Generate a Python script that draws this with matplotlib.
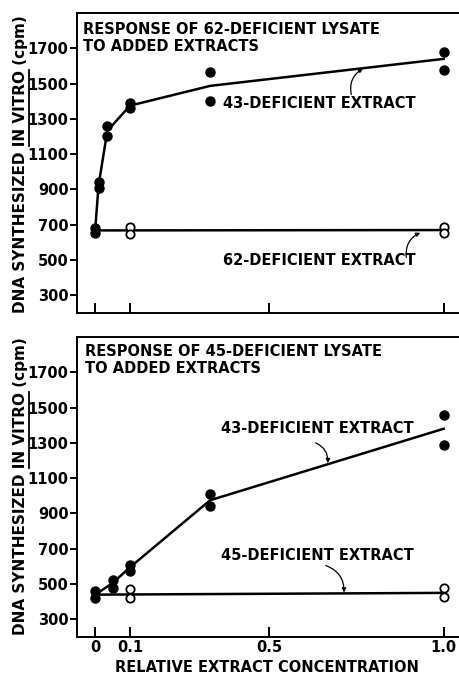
import matplotlib
matplotlib.use('Agg')
import matplotlib.pyplot as plt
from matplotlib.lines import Line2D

# ---------------- data ----------------
# top panel: 62-deficient lysate
top_conc_43 = [0, 0, 0.01, 0.01, 0.035, 0.035, 0.1, 0.1, 0.33, 0.33, 1.0, 1.0]
top_dna_43 = [680, 655, 945, 910, 1260, 1205, 1390, 1360, 1565, 1400, 1680, 1575]
top_line43_x = [0, 0.01, 0.035, 0.1, 0.33, 1.0]
top_line43_y = [668, 925, 1232, 1375, 1487, 1640]
top_conc_62 = [0.1, 0.1, 1.0, 1.0]
top_dna_62 = [688, 650, 688, 652]
top_line62_x = [0, 1.0]
top_line62_y = [668, 670]

# bottom panel: 45-deficient lysate
bot_conc_43 = [0, 0, 0.05, 0.05, 0.1, 0.1, 0.33, 0.33, 1.0, 1.0]
bot_dna_43 = [460, 420, 525, 480, 610, 575, 1010, 940, 1460, 1290]
bot_line43_x = [0, 0.05, 0.1, 0.33, 1.0]
bot_line43_y = [440, 505, 595, 975, 1380]
bot_conc_45 = [0.1, 0.1, 1.0, 1.0]
bot_dna_45 = [470, 420, 475, 424]
bot_line45_x = [0, 1.0]
bot_line45_y = [440, 450]

y_ticks = [300, 500, 700, 900, 1100, 1300, 1500, 1700]
x_ticks = [0, 0.1, 0.5, 1.0]
x_tick_labels = ['0', '0.1', '0.5', '1.0']

FONT = 'DejaVu Sans'
FS = 10.5
W = 'bold'
plt.rcParams['font.family'] = [FONT]

fig = plt.figure(figsize=(4.6, 6.75), dpi=100)
ax1 = fig.add_axes([77 / 460, 1 - 313 / 675, 383 / 460, 300 / 675])
ax2 = fig.add_axes([77 / 460, 1 - 637 / 675, 383 / 460, 300 / 675])


def style(ax, show_xlabels):
    ax.set_xlim(-0.052, 1.047)
    ax.set_ylim(200, 1900)
    ax.set_yticks(y_ticks)
    ax.set_yticklabels([str(v) for v in y_ticks], fontsize=FS, fontweight=W)
    ax.set_xticks(x_ticks)
    if show_xlabels:
        ax.set_xticklabels(x_tick_labels, fontsize=FS, fontweight=W)
    else:
        ax.set_xticklabels([])
    ax.tick_params(axis='y', direction='out', length=5, width=1.4, pad=1)
    ax.tick_params(axis='x', direction='in', length=7, width=1.4, pad=2)
    for s in ax.spines.values():
        s.set_linewidth(1.4)


def draw(ax, lx1, ly1, cx1, cy1, lx2, ly2, cx2, cy2):
    ax.plot(lx1, ly1, color='black', lw=1.8, zorder=2)
    ax.plot(lx2, ly2, color='black', lw=1.8, zorder=2)
    ax.plot(cx1, cy1, 'o', color='black', ms=6.5, zorder=3, clip_on=False)
    ax.plot(cx2, cy2, 'o', mfc='white', mec='black', mew=1.3, ms=6, zorder=3,
            clip_on=False)


style(ax1, False)
style(ax2, True)
draw(ax1, top_line43_x, top_line43_y, top_conc_43, top_dna_43,
     top_line62_x, top_line62_y, top_conc_62, top_dna_62)
draw(ax2, bot_line43_x, bot_line43_y, bot_conc_43, bot_dna_43,
     bot_line45_x, bot_line45_y, bot_conc_45, bot_dna_45)

tk = dict(fontsize=FS, fontweight=W, color='black')
# titles
ax1.text(-0.035, 1849, 'RESPONSE OF 62-DEFICIENT LYSATE\nTO ADDED EXTRACTS',
         ha='left', va='top', linespacing=1.2, **tk)
ax2.text(-0.030, 1862, 'RESPONSE OF 45-DEFICIENT LYSATE\nTO ADDED EXTRACTS',
         ha='left', va='top', linespacing=1.2, **tk)
# curve labels
ax1.text(0.366, 1385, '43-DEFICIENT EXTRACT', ha='left', va='center', **tk)
ax1.text(0.366, 500, '62-DEFICIENT EXTRACT', ha='left', va='center', **tk)
ax2.text(0.36, 1380, '43-DEFICIENT EXTRACT', ha='left', va='center', **tk)
ax2.text(0.36, 662, '45-DEFICIENT EXTRACT', ha='left', va='center', **tk)

ap = dict(arrowstyle='-|>', connectionstyle='arc3,rad=-0.35', lw=0.9,
          color='black', mutation_scale=6, shrinkA=0, shrinkB=0)
ax1.annotate('', xy=(0.769, 1585), xytext=(0.735, 1438), arrowprops=ap)
ax1.annotate('', xy=(0.933, 655), xytext=(0.893, 515), arrowprops=ap)
ax2.annotate('', xy=(0.667, 1185), xytext=(0.633, 1300), arrowprops=ap)
ax2.annotate('', xy=(0.714, 452), xytext=(0.662, 605), arrowprops=ap)

# x label
fig.text(267 / 460, 1 - 668 / 675, 'RELATIVE EXTRACT CONCENTRATION',
         ha='center', va='center', **tk)

# y labels with underlined "IN VITRO"
label = 'DNA SYNTHESIZED IN VITRO (cpm)'
upto = 'DNA SYNTHESIZED IN VITRO'
part = 'IN VITRO'
yk = dict(fontsize=11, fontweight=W, color='black')
fig.canvas.draw()
r = fig.canvas.get_renderer()


def width_px(s):
    t = fig.text(0, 0, s, **yk)
    w = t.get_window_extent(renderer=r).width
    t.remove()
    return w


w_all = width_px(label)
w_upto = width_px(upto)
w_part = width_px(part)
for cy in (164, 486):
    xc = 21
    fig.text(xc / 460, 1 - cy / 675, label, rotation=90, ha='center',
             va='center', **yk)
    start = (675 - cy) - w_all / 2  # bottom end of text in px from bottom
    y0 = start + (w_upto - w_part)
    y1 = start + w_upto
    xu = xc + 8
    fig.add_artist(Line2D([xu / 460, xu / 460], [y0 / 675, y1 / 675],
                          transform=fig.transFigure, color='black', lw=1.3))

fig.savefig('out.png', dpi=100)
